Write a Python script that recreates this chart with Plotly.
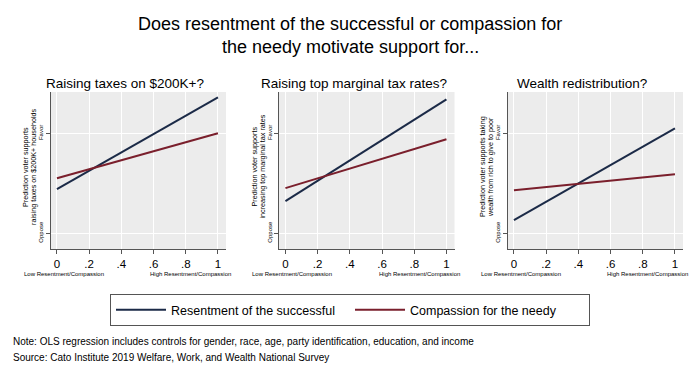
import plotly.graph_objects as go

# ---- data ----
x_vals = [0, 1]
panel_titles = ["Raising taxes on $200K+?", "Raising top marginal tax rates?", "Wealth redistribution?"]
y_titles = [
    ["Prediction voter supports", "raising taxes on $200K+ households"],
    ["Prediction voter supports", "increasing top marginal tax rates"],
    ["Prediction voter supports taking", "wealth from rich to give to poor"],
]
resentment = [
    [0.44, 1.36],
    [0.32, 1.34],
    [0.13, 1.05],
]
compassion = [
    [0.55, 1.00],
    [0.45, 0.94],
    [0.43, 0.59],
]
y_tick_vals = [0, 1]
y_tick_text = ["Oppose", "Favor"]
x_tick_vals = [0, 0.2, 0.4, 0.6, 0.8, 1]
x_tick_text = ["0", ".2", ".4", ".6", ".8", "1"]
series_names = ["Resentment of the successful", "Compassion for the needy"]
series_colors = ["#1b2a47", "#7a1f2c"]
note_lines = [
    "Note: OLS regression includes controls for gender, race, age, party identification, education, and income",
    "Source: Cato Institute 2019 Welfare, Work, and Wealth National Survey",
]

W, H = 700, 373
FONT = "Liberation Sans, Arial, Helvetica, sans-serif"

panel_left = [50.5, 279, 507.5]
panel_w = 175.5
plot_top, plot_bot = 92, 249


def px(x):
    return x / W


def py(y):
    return 1 - y / H


fig = go.Figure()
annotations = []


def ann(text, x, y, size, xanchor="center", yanchor="middle", **kw):
    annotations.append(dict(text=text, x=px(x), y=py(y), xref="paper", yref="paper",
                            xanchor=xanchor, yanchor=yanchor, showarrow=False,
                            font=dict(family=FONT, size=size, color="black"), **kw))


for i in range(3):
    xa = "x" if i == 0 else f"x{i+1}"
    ya = "y" if i == 0 else f"y{i+1}"
    for s, (name, col, data) in enumerate(zip(series_names, series_colors, [resentment, compassion])):
        fig.add_trace(go.Scatter(
            x=x_vals, y=data[i], mode="lines", name=name,
            line=dict(color=col, width=2),
            xaxis=xa, yaxis=ya, showlegend=(i == 0), legendrank=s + 1,
        ))
    l = panel_left[i]
    r = l + panel_w
    axis_common = dict(showline=True, linecolor="#555555", linewidth=1, ticks="outside",
                       ticklen=4, tickcolor="#555555", gridcolor="white", gridwidth=1,
                       zeroline=False, fixedrange=True)
    fig.update_layout(**{
        ("xaxis" if i == 0 else f"xaxis{i+1}"): dict(
            domain=[px(l), px(r)], anchor=ya, range=[-0.04, 1.05],
            tickvals=x_tick_vals, ticktext=x_tick_text,
            tickfont=dict(family=FONT, size=11.5, color="black"), **axis_common),
        ("yaxis" if i == 0 else f"yaxis{i+1}"): dict(
            domain=[py(plot_bot), py(plot_top)], anchor=xa, range=[-0.16, 1.414],
            tickvals=y_tick_vals, ticktext=y_tick_text, tickangle=-90,
            tickfont=dict(family=FONT, size=6, color="black"), **axis_common),
    })
    ann(panel_titles[i], l + panel_w / 2 - 13, 83, 13.5)
    ann(y_titles[i][0], l - 25.5, 167, 7.2, textangle=-90)
    ann(y_titles[i][1], l - 17.5, 167, 7.2, textangle=-90)
    ann("Low Resentment/Compassion", l - 29, 274, 6, xanchor="left")
    ann("High Resentment/Compassion", r + 7, 274, 6, xanchor="right")

ann("Does resentment of the successful or compassion for", 350, 24, 18)
ann("the needy motivate support for...", 350, 47, 18)
ann(note_lines[0], 11, 341, 10, xanchor="left")
ann(note_lines[1], 11, 357, 10, xanchor="left")

fig.update_layout(
    width=W, height=H,
    margin=dict(l=0, r=0, t=0, b=0),
    paper_bgcolor="white", plot_bgcolor="#ececec",
    annotations=annotations,
    showlegend=True,
    legend=dict(orientation="h", x=0.5, xanchor="center", y=py(294), yanchor="top",
                bordercolor="#555555", borderwidth=1, bgcolor="white",
                font=dict(family=FONT, size=12.5, color="black"),
                entrywidth=174, itemwidth=50, traceorder="normal"),
)

fig.write_html("out.html", config={"displayModeBar": False},
               post_script="document.body.style.margin='0px';")
